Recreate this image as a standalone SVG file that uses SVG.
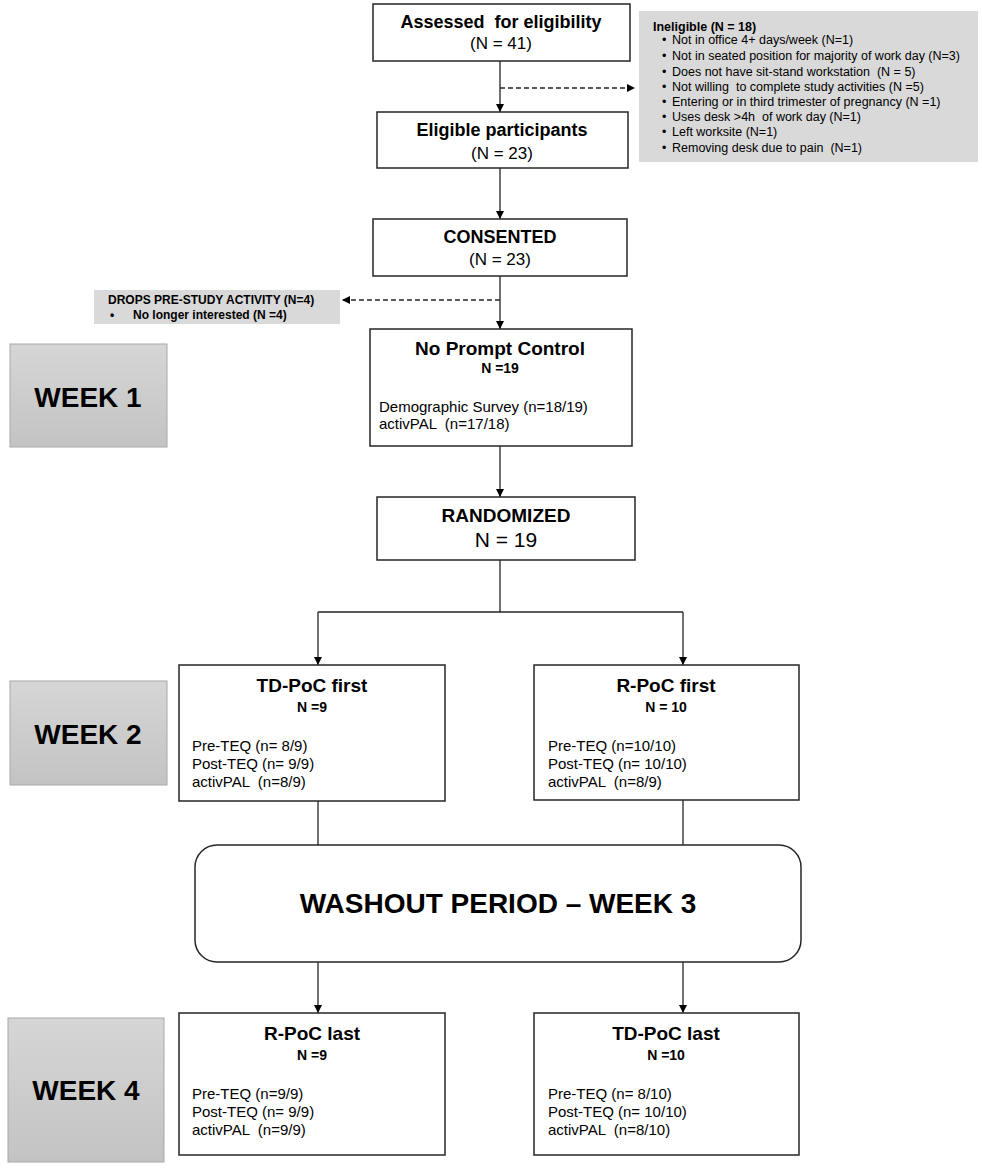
<svg xmlns="http://www.w3.org/2000/svg" width="982" height="1169" viewBox="0 0 982 1169">
<defs>
<marker id="ah" viewBox="0 0 10 10" refX="10" refY="5" markerWidth="8" markerHeight="8" markerUnits="userSpaceOnUse" orient="auto">
<path d="M0,0 L10,5 L0,10 z" fill="#000"/>
</marker>
<linearGradient id="wk" x1="0" y1="0" x2="0" y2="1">
<stop offset="0" stop-color="#d6d6d6"/>
<stop offset="1" stop-color="#c3c3c3"/>
</linearGradient>
<style>
text{font-family:"Liberation Sans",Arial,sans-serif;fill:#000;white-space:pre}
.box{fill:#fff;stroke:#262626;stroke-width:1.5}
.gray{fill:#d9d9d9}
.wk{fill:url(#wk);stroke:#a8a8a8;stroke-width:1}
.t{font-size:18px;font-weight:bold;text-anchor:middle}
.tt{font-size:19px;font-weight:bold;text-anchor:middle}
.n{font-size:17px;text-anchor:middle}
.nb{font-size:14px;font-weight:bold;text-anchor:middle}
.b{font-size:15px}
.wt{font-size:28px;font-weight:bold;text-anchor:middle}
.ie{font-size:12.5px}
.ieb{font-size:12.5px;font-weight:bold}
.dr{font-size:12px;font-weight:bold}
.ln{fill:none;stroke:#262626;stroke-width:1.3}
.ar{fill:none;stroke:#262626;stroke-width:1.3;marker-end:url(#ah)}
.da{fill:none;stroke:#262626;stroke-width:1.3;stroke-dasharray:5,3;marker-end:url(#ah)}
</style>
</defs>
<rect width="982" height="1169" fill="#fff"/>

<g id="connectors">
<line class="ar" x1="500" y1="61" x2="500" y2="112"/>
<line class="da" x1="500" y1="88" x2="635" y2="88"/>
<line class="ar" x1="500" y1="168" x2="500" y2="219"/>
<line class="ar" x1="500" y1="276" x2="500" y2="329"/>
<line class="da" x1="500" y1="300" x2="342" y2="300"/>
<line class="ar" x1="500" y1="446" x2="500" y2="497"/>
<polyline class="ln" points="500,560 500,612 318,612"/>
<line class="ln" x1="500" y1="612" x2="683" y2="612"/>
<line class="ar" x1="318" y1="612" x2="318" y2="665"/>
<line class="ar" x1="683" y1="612" x2="683" y2="665"/>
<line class="ln" x1="318" y1="801" x2="318" y2="845"/>
<line class="ln" x1="683" y1="800" x2="683" y2="845"/>
<line class="ar" x1="318" y1="962" x2="318" y2="1013"/>
<line class="ar" x1="683" y1="962" x2="683" y2="1013"/>
</g>

<g id="assessed">
<rect class="box" x="373" y="4" width="257" height="57"/>
<text class="t" x="501" y="28" xml:space="preserve">Assessed  for eligibility</text>
<text class="n" x="501" y="49">(N = 41)</text>
</g>

<g id="ineligible">
<rect class="gray" x="639" y="11" width="339" height="151"/>
<text class="ieb" x="653" y="31">Ineligible (N = 18)</text>
<g class="ie">
<text x="662" y="44">•</text><text x="672" y="44">Not in office 4+ days/week (N=1)</text>
<text x="662" y="60">•</text><text x="672" y="60">Not in seated position for majority of work day (N=3)</text>
<text x="662" y="76">•</text><text x="672" y="76" xml:space="preserve">Does not have sit-stand workstation  (N = 5)</text>
<text x="662" y="91">•</text><text x="672" y="91" xml:space="preserve">Not willing  to complete study activities (N =5)</text>
<text x="662" y="106">•</text><text x="672" y="106">Entering or in third trimester of pregnancy (N =1)</text>
<text x="662" y="121">•</text><text x="672" y="121" xml:space="preserve">Uses desk &gt;4h  of work day (N=1)</text>
<text x="662" y="136">•</text><text x="672" y="136">Left worksite (N=1)</text>
<text x="662" y="152">•</text><text x="672" y="152" xml:space="preserve">Removing desk due to pain  (N=1)</text>
</g>
</g>

<g id="eligible">
<rect class="box" x="377" y="112" width="251" height="56"/>
<text class="t" x="502" y="136">Eligible participants</text>
<text class="n" x="502" y="159">(N = 23)</text>
</g>

<g id="consented">
<rect class="box" x="373" y="219" width="254" height="57"/>
<text class="t" x="500" y="243">CONSENTED</text>
<text class="n" x="500" y="265">(N = 23)</text>
</g>

<g id="drops">
<rect class="gray" x="94" y="290" width="246" height="34"/>
<text class="dr" x="108" y="304">DROPS PRE-STUDY ACTIVITY (N=4)</text>
<text class="dr" x="110" y="319">•</text>
<text class="dr" x="133" y="319">No longer interested (N =4)</text>
</g>

<g id="week1">
<rect class="wk" x="10" y="344" width="157" height="103"/>
<text class="wt" x="88" y="407">WEEK 1</text>
</g>

<g id="npc">
<rect class="box" x="370" y="329" width="262" height="117"/>
<text class="tt" x="500" y="355">No Prompt Control</text>
<text class="nb" x="500" y="373">N =19</text>
<text class="b" x="379" y="412">Demographic Survey (n=18/19)</text>
<text class="b" x="379" y="429" xml:space="preserve">activPAL  (n=17/18)</text>
</g>

<g id="randomized">
<rect class="box" x="377" y="497" width="258" height="63"/>
<text class="tt" x="506" y="522">RANDOMIZED</text>
<text x="506" y="547" font-size="21" text-anchor="middle">N = 19</text>
</g>

<g id="week2">
<rect class="wk" x="10" y="681" width="157" height="104"/>
<text class="wt" x="88" y="744">WEEK 2</text>
</g>

<g id="tdfirst">
<rect class="box" x="179" y="665" width="266" height="136"/>
<text class="tt" x="312" y="692">TD-PoC first</text>
<text class="nb" x="312" y="712">N =9</text>
<text class="b" x="192" y="751">Pre-TEQ (n= 8/9)</text>
<text class="b" x="192" y="769">Post-TEQ (n= 9/9)</text>
<text class="b" x="192" y="787" xml:space="preserve">activPAL  (n=8/9)</text>
</g>

<g id="rfirst">
<rect class="box" x="534" y="665" width="265" height="135"/>
<text class="tt" x="666" y="692">R-PoC first</text>
<text class="nb" x="666" y="712">N = 10</text>
<text class="b" x="548" y="751">Pre-TEQ (n=10/10)</text>
<text class="b" x="548" y="769">Post-TEQ (n= 10/10)</text>
<text class="b" x="548" y="787" xml:space="preserve">activPAL  (n=8/9)</text>
</g>

<g id="washout">
<rect class="box" x="195" y="845" width="606" height="117" rx="22" ry="22"/>
<text class="wt" x="498" y="913">WASHOUT PERIOD – WEEK 3</text>
</g>

<g id="week4">
<rect class="wk" x="8" y="1018" width="156" height="144"/>
<text class="wt" x="86" y="1100">WEEK 4</text>
</g>

<g id="rlast">
<rect class="box" x="179" y="1013" width="266" height="142"/>
<text class="tt" x="312" y="1040">R-PoC last</text>
<text class="nb" x="312" y="1060">N =9</text>
<text class="b" x="192" y="1099">Pre-TEQ (n=9/9)</text>
<text class="b" x="192" y="1117">Post-TEQ (n= 9/9)</text>
<text class="b" x="192" y="1135" xml:space="preserve">activPAL  (n=9/9)</text>
</g>

<g id="tdlast">
<rect class="box" x="534" y="1013" width="265" height="142"/>
<text class="tt" x="666" y="1040">TD-PoC last</text>
<text class="nb" x="666" y="1060">N =10</text>
<text class="b" x="548" y="1099">Pre-TEQ (n= 8/10)</text>
<text class="b" x="548" y="1117">Post-TEQ (n= 10/10)</text>
<text class="b" x="548" y="1135" xml:space="preserve">activPAL  (n=8/10)</text>
</g>
</svg>
